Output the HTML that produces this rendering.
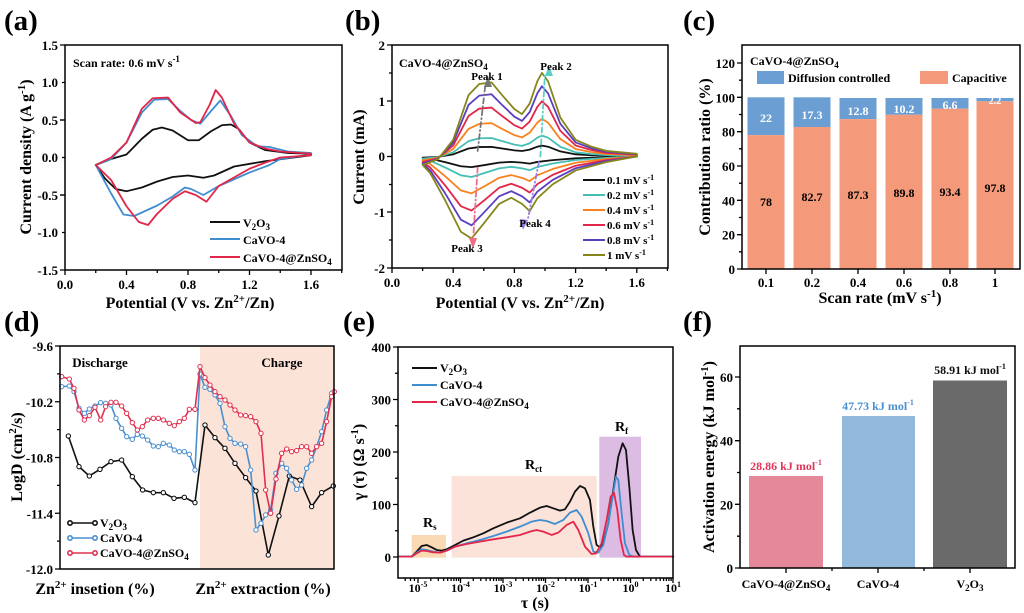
<!DOCTYPE html>
<html><head><meta charset="utf-8"><style>
html,body{margin:0;padding:0;background:#fff}
svg{display:block;font-family:"Liberation Serif",serif;font-weight:bold}
.ns{vector-effect:non-scaling-stroke;fill:none;stroke-linejoin:round;stroke-linecap:round}
.t{font-size:13px}
.ti{font-size:16px}
.pl{font-size:29px}
</style></head><body>
<svg width="1024" height="613" viewBox="0 0 1024 613" xmlns="http://www.w3.org/2000/svg">
<defs>
<marker id="mk" viewBox="-10 -10 20 20" markerWidth="20" markerHeight="20" markerUnits="userSpaceOnUse"><circle r="6.5" fill="#fff" stroke="#000" stroke-width="3"/></marker>
<marker id="mb" viewBox="-10 -10 20 20" markerWidth="20" markerHeight="20" markerUnits="userSpaceOnUse"><circle r="6.5" fill="#fff" stroke="#4A8FCF" stroke-width="3"/></marker>
<marker id="mr" viewBox="-10 -10 20 20" markerWidth="20" markerHeight="20" markerUnits="userSpaceOnUse"><circle r="6.5" fill="#fff" stroke="#E0304F" stroke-width="3"/></marker>
</defs>

<!-- ================= (a) ================= -->
<text x="4" y="30" class="pl">(a)</text>
<g transform="translate(65,157.5) scale(153.75,-75)">
<polyline class="ns" stroke="#111" stroke-width="1.8" points="0.2,-0.1 0.3,-0.02 0.4,0.04 0.5,0.25 0.57,0.37 0.63,0.4 0.7,0.36 0.8,0.23 0.87,0.23 0.95,0.35 1.02,0.43 1.08,0.44 1.13,0.38 1.2,0.2 1.3,0.1 1.45,0.06 1.6,0.05 1.6,0.03 1.3,-0.05 1.1,-0.12 0.97,-0.24 0.9,-0.27 0.8,-0.24 0.7,-0.26 0.6,-0.32 0.5,-0.4 0.4,-0.45 0.33,-0.42 0.26,-0.28 0.2,-0.1"/>
<polyline class="ns" stroke="#3F8ED0" stroke-width="1.8" points="0.2,-0.1 0.3,-0.02 0.4,0.2 0.5,0.6 0.58,0.77 0.67,0.78 0.75,0.62 0.82,0.5 0.88,0.45 0.95,0.62 1.01,0.76 1.08,0.55 1.15,0.3 1.25,0.15 1.33,0.14 1.45,0.08 1.6,0.06 1.6,0.04 1.4,-0.02 1.33,-0.1 1.2,-0.2 1.0,-0.38 0.9,-0.5 0.82,-0.42 0.78,-0.4 0.7,-0.52 0.6,-0.64 0.45,-0.78 0.38,-0.76 0.3,-0.48 0.2,-0.1"/>
<polyline class="ns" stroke="#E2264A" stroke-width="1.8" points="0.2,-0.1 0.3,0.0 0.4,0.2 0.5,0.65 0.57,0.79 0.67,0.8 0.75,0.6 0.85,0.46 0.88,0.47 0.94,0.7 0.98,0.9 1.02,0.8 1.1,0.45 1.2,0.2 1.3,0.12 1.4,0.08 1.6,0.05 1.6,0.03 1.4,0.0 1.3,-0.07 1.2,-0.15 1.0,-0.38 0.92,-0.59 0.85,-0.5 0.78,-0.45 0.7,-0.55 0.6,-0.75 0.54,-0.9 0.48,-0.86 0.4,-0.65 0.3,-0.3 0.2,-0.1"/>
</g>
<rect x="65" y="45" width="277" height="225" fill="none" stroke="#000" stroke-width="1.5"/>
<g stroke="#000" stroke-width="1.3">
<path d="M65,45h-5M65,82.5h-3M65,120h-5M65,157.5h-3M65,195h-5M65,232.5h-3M65,270h-5"/>
<path d="M65,270v5M95.75,270v3M126.5,270v5M157.25,270v3M188,270v5M218.75,270v3M249.5,270v5M280.25,270v3M311,270v5M341.75,270v3"/>
<path d="M65,120h-5M65,195h-5"/>
</g>
<g class="t" text-anchor="end">
<text x="58" y="50">1.5</text><text x="58" y="87">1.0</text><text x="58" y="125">0.5</text><text x="58" y="162">0.0</text><text x="58" y="200">-0.5</text><text x="58" y="237">-1.0</text><text x="58" y="275">-1.5</text>
</g>
<g class="t" text-anchor="middle">
<text x="65" y="289">0.0</text><text x="126.5" y="289">0.4</text><text x="188" y="289">0.8</text><text x="249.5" y="289">1.2</text><text x="311" y="289">1.6</text>
</g>
<text x="190" y="308" class="ti" text-anchor="middle">Potential (V vs. Zn<tspan dy="-6" font-size="11">2+</tspan><tspan dy="6">/Zn)</tspan></text>
<text transform="translate(31,157) rotate(-90)" class="ti" text-anchor="middle">Current density (A g<tspan dy="-6" font-size="11">-1</tspan><tspan dy="6">)</tspan></text>
<text x="73" y="67" font-size="12">Scan rate: 0.6 mV s<tspan dy="-5" font-size="9">-1</tspan></text>
<g stroke-width="2"><line x1="210" y1="222" x2="240" y2="222" stroke="#111"/><line x1="210" y1="239" x2="240" y2="239" stroke="#3F8ED0"/><line x1="210" y1="257" x2="240" y2="257" stroke="#E2264A"/></g>
<g font-size="12"><text x="243" y="227">V<tspan dy="3" font-size="9">2</tspan><tspan dy="-3">O</tspan><tspan dy="3" font-size="9">3</tspan></text><text x="243" y="244">CaVO-4</text><text x="243" y="262">CaVO-4@ZnSO<tspan dy="3" font-size="9">4</tspan></text></g>

<!-- ================= (b) ================= -->
<text x="345" y="30" class="pl">(b)</text>
<g transform="translate(392,156.5) scale(153,-55.75)">
<g transform="scale(1,0.13)"><polyline class="ns" stroke="#111" stroke-width="1.8" points="0.2,-0.15 0.3,-0.05 0.4,0.3 0.5,1.1 0.57,1.3 0.65,1.33 0.72,1.1 0.8,0.85 0.85,0.76 0.9,0.95 0.95,1.35 0.98,1.5 1.02,1.35 1.1,0.7 1.2,0.3 1.3,0.18 1.4,0.1 1.6,0.05 1.6,0.0 1.4,-0.1 1.2,-0.25 1.05,-0.5 0.95,-0.75 0.9,-0.98 0.85,-0.85 0.78,-0.74 0.7,-0.85 0.6,-1.2 0.52,-1.47 0.45,-1.35 0.35,-0.8 0.25,-0.3 0.2,-0.15"/></g>
<g transform="scale(1,0.25)"><polyline class="ns" stroke="#45BFB5" stroke-width="1.8" points="0.2,-0.15 0.3,-0.05 0.4,0.3 0.5,1.1 0.57,1.3 0.65,1.33 0.72,1.1 0.8,0.85 0.85,0.76 0.9,0.95 0.95,1.35 0.98,1.5 1.02,1.35 1.1,0.7 1.2,0.3 1.3,0.18 1.4,0.1 1.6,0.05 1.6,0.0 1.4,-0.1 1.2,-0.25 1.05,-0.5 0.95,-0.75 0.9,-0.98 0.85,-0.85 0.78,-0.74 0.7,-0.85 0.6,-1.2 0.52,-1.47 0.45,-1.35 0.35,-0.8 0.25,-0.3 0.2,-0.15"/></g>
<g transform="scale(1,0.45)"><polyline class="ns" stroke="#F7821E" stroke-width="1.8" points="0.2,-0.15 0.3,-0.05 0.4,0.3 0.5,1.1 0.57,1.3 0.65,1.33 0.72,1.1 0.8,0.85 0.85,0.76 0.9,0.95 0.95,1.35 0.98,1.5 1.02,1.35 1.1,0.7 1.2,0.3 1.3,0.18 1.4,0.1 1.6,0.05 1.6,0.0 1.4,-0.1 1.2,-0.25 1.05,-0.5 0.95,-0.75 0.9,-0.98 0.85,-0.85 0.78,-0.74 0.7,-0.85 0.6,-1.2 0.52,-1.47 0.45,-1.35 0.35,-0.8 0.25,-0.3 0.2,-0.15"/></g>
<g transform="scale(1,0.66)"><polyline class="ns" stroke="#E2264A" stroke-width="1.8" points="0.2,-0.15 0.3,-0.05 0.4,0.3 0.5,1.1 0.57,1.3 0.65,1.33 0.72,1.1 0.8,0.85 0.85,0.76 0.9,0.95 0.95,1.35 0.98,1.5 1.02,1.35 1.1,0.7 1.2,0.3 1.3,0.18 1.4,0.1 1.6,0.05 1.6,0.0 1.4,-0.1 1.2,-0.25 1.05,-0.5 0.95,-0.75 0.9,-0.98 0.85,-0.85 0.78,-0.74 0.7,-0.85 0.6,-1.2 0.52,-1.47 0.45,-1.35 0.35,-0.8 0.25,-0.3 0.2,-0.15"/></g>
<g transform="scale(1,0.84)"><polyline class="ns" stroke="#5B3EC0" stroke-width="1.8" points="0.2,-0.15 0.3,-0.05 0.4,0.3 0.5,1.1 0.57,1.3 0.65,1.33 0.72,1.1 0.8,0.85 0.85,0.76 0.9,0.95 0.95,1.35 0.98,1.5 1.02,1.35 1.1,0.7 1.2,0.3 1.3,0.18 1.4,0.1 1.6,0.05 1.6,0.0 1.4,-0.1 1.2,-0.25 1.05,-0.5 0.95,-0.75 0.9,-0.98 0.85,-0.85 0.78,-0.74 0.7,-0.85 0.6,-1.2 0.52,-1.47 0.45,-1.35 0.35,-0.8 0.25,-0.3 0.2,-0.15"/></g>
<polyline class="ns" stroke="#86861A" stroke-width="1.8" points="0.2,-0.15 0.3,-0.05 0.4,0.3 0.5,1.1 0.57,1.3 0.65,1.33 0.72,1.1 0.8,0.85 0.85,0.76 0.9,0.95 0.95,1.35 0.98,1.5 1.02,1.35 1.1,0.7 1.2,0.3 1.3,0.18 1.4,0.1 1.6,0.05 1.6,0.0 1.4,-0.1 1.2,-0.25 1.05,-0.5 0.95,-0.75 0.9,-0.98 0.85,-0.85 0.78,-0.74 0.7,-0.85 0.6,-1.2 0.52,-1.47 0.45,-1.35 0.35,-0.8 0.25,-0.3 0.2,-0.15"/>
<line x1="0.56" y1="0.1" x2="0.61" y2="1.28" class="ns" stroke="#777" stroke-width="1.8" stroke-dasharray="5 3 1 3"/>
<line x1="0.97" y1="0.0" x2="1.0" y2="1.5" class="ns" stroke="#5CCFC4" stroke-width="1.8" stroke-dasharray="5 3 1 3"/>
<line x1="0.56" y1="-0.2" x2="0.53" y2="-1.5" class="ns" stroke="#EE6C84" stroke-width="1.8" stroke-dasharray="5 3 1 3"/>
<line x1="0.96" y1="-0.1" x2="0.89" y2="-1.1" class="ns" stroke="#9A7FE0" stroke-width="1.8" stroke-dasharray="5 3 1 3"/>
</g>
<polygon points="484,87 492,87 488,76" fill="#777"/>
<polygon points="545,76 553,76 549,65" fill="#5CCFC4"/>
<polygon points="469,238 477,238 473,249" fill="#EE6C84"/>
<polygon points="520,219 528,220 523,230" fill="#9A7FE0"/>
<rect x="392" y="45" width="276" height="223" fill="none" stroke="#000" stroke-width="1.5"/>
<g stroke="#000" stroke-width="1.3">
<path d="M392,45h-5M392,73h-3M392,101h-5M392,129h-3M392,156.5h-5M392,184.5h-3M392,212h-5M392,240h-3M392,268h-5"/>
<path d="M392,268v5M422.6,268v3M453.2,268v5M483.8,268v3M514.4,268v5M545,268v3M575.6,268v5M606.2,268v3M636.8,268v5M667.4,268v3"/>
</g>
<g class="t" text-anchor="end"><text x="385" y="50">2</text><text x="385" y="106">1</text><text x="385" y="161">0</text><text x="385" y="217">-1</text><text x="385" y="273">-2</text></g>
<g class="t" text-anchor="middle"><text x="392" y="287">0.0</text><text x="453.2" y="287">0.4</text><text x="514.4" y="287">0.8</text><text x="575.6" y="287">1.2</text><text x="636.8" y="287">1.6</text></g>
<text x="520" y="308" class="ti" text-anchor="middle">Potential (V vs. Zn<tspan dy="-6" font-size="11">2+</tspan><tspan dy="6">/Zn)</tspan></text>
<text transform="translate(364,157) rotate(-90)" class="ti" text-anchor="middle">Current (mA)</text>
<text x="399" y="67" font-size="12">CaVO-4@ZnSO<tspan dy="3" font-size="9">4</tspan></text>
<g font-size="11" text-anchor="middle"><text x="487" y="80">Peak 1</text><text x="556" y="70">Peak 2</text><text x="467" y="252">Peak 3</text><text x="535" y="227">Peak 4</text></g>
<g stroke-width="2">
<line x1="583" y1="180" x2="605" y2="180" stroke="#111"/><line x1="583" y1="195" x2="605" y2="195" stroke="#45BFB5"/><line x1="583" y1="210" x2="605" y2="210" stroke="#F7821E"/><line x1="583" y1="225" x2="605" y2="225" stroke="#E2264A"/><line x1="583" y1="240" x2="605" y2="240" stroke="#5B3EC0"/><line x1="583" y1="255" x2="605" y2="255" stroke="#86861A"/>
</g>
<g font-size="11"><text x="607" y="184">0.1 mV s<tspan dy="-4" font-size="8">-1</tspan></text><text x="607" y="199">0.2 mV s<tspan dy="-4" font-size="8">-1</tspan></text><text x="607" y="214">0.4 mV s<tspan dy="-4" font-size="8">-1</tspan></text><text x="607" y="229">0.6 mV s<tspan dy="-4" font-size="8">-1</tspan></text><text x="607" y="244">0.8 mV s<tspan dy="-4" font-size="8">-1</tspan></text><text x="607" y="259">1 mV s<tspan dy="-4" font-size="8">-1</tspan></text></g>

<!-- ================= (c) ================= -->
<text x="683" y="30" class="pl">(c)</text>
<g>
<rect x="747.5" y="97.3" width="37" height="37.8" fill="#6B9FD3"/><rect x="747.5" y="135.1" width="37" height="133.9" fill="#F49A7A"/>
<rect x="793.5" y="97.3" width="37" height="29.7" fill="#6B9FD3"/><rect x="793.5" y="127" width="37" height="142" fill="#F49A7A"/>
<rect x="839.5" y="98" width="37" height="21.1" fill="#6B9FD3"/><rect x="839.5" y="119.1" width="37" height="149.9" fill="#F49A7A"/>
<rect x="885.5" y="98" width="37" height="16.8" fill="#6B9FD3"/><rect x="885.5" y="114.8" width="37" height="154.2" fill="#F49A7A"/>
<rect x="931.5" y="98" width="37" height="10.7" fill="#6B9FD3"/><rect x="931.5" y="108.7" width="37" height="160.3" fill="#F49A7A"/>
<rect x="976.5" y="98" width="37" height="3.3" fill="#6B9FD3"/><rect x="976.5" y="101.3" width="37" height="167.7" fill="#F49A7A"/>
</g>
<rect x="742" y="45" width="278" height="224" fill="none" stroke="#000" stroke-width="1.5"/>
<g stroke="#000" stroke-width="1.3">
<path d="M742,269h-5M742,251.8h-3M742,234.7h-5M742,217.5h-3M742,200.3h-5M742,183.2h-3M742,166h-5M742,148.8h-3M742,131.7h-5M742,114.5h-3M742,97.3h-5M742,80.2h-3M742,63h-5"/>
<path d="M766,269v5M812,269v5M858,269v5M904,269v5M950,269v5M995,269v5"/>
</g>
<g class="t" text-anchor="end"><text x="735" y="274">0</text><text x="735" y="239.7">20</text><text x="735" y="205.3">40</text><text x="735" y="171">60</text><text x="735" y="136.7">80</text><text x="735" y="102.3">100</text><text x="735" y="68">120</text></g>
<g class="t" text-anchor="middle"><text x="766" y="287">0.1</text><text x="812" y="287">0.2</text><text x="858" y="287">0.4</text><text x="904" y="287">0.6</text><text x="950" y="287">0.8</text><text x="995" y="287">1</text></g>
<g font-size="12" text-anchor="middle"><text x="766" y="206">78</text><text x="812" y="201">82.7</text><text x="858" y="199">87.3</text><text x="904" y="197">89.8</text><text x="950" y="196">93.4</text><text x="995" y="192">97.8</text></g>
<g font-size="12" text-anchor="middle" fill="#fff"><text x="766" y="122">22</text><text x="812" y="119">17.3</text><text x="858" y="115">12.8</text><text x="904" y="113">10.2</text><text x="950" y="109">6.6</text><text x="995" y="104" font-size="10">2.2</text></g>
<text x="880" y="303" class="ti" text-anchor="middle">Scan rate (mV s<tspan dy="-6" font-size="11">-1</tspan><tspan dy="6">)</tspan></text>
<text transform="translate(710,157) rotate(-90)" class="ti" text-anchor="middle">Contribution ratio (%)</text>
<text x="750" y="65" font-size="12">CaVO-4@ZnSO<tspan dy="3" font-size="9">4</tspan></text>
<rect x="757" y="71" width="27" height="13" fill="#6B9FD3"/><text x="788" y="82" font-size="12">Diffusion controlled</text>
<rect x="920" y="71" width="28" height="13" fill="#F49A7A"/><text x="952" y="82" font-size="12">Capacitive</text>

<!-- ================= (d) ================= -->
<text x="4" y="331" class="pl">(d)</text>
<rect x="200" y="346" width="134" height="223" fill="#FBE3D8"/>
<g transform="translate(0,300) scale(0.3333)">
<polyline class="ns" stroke="#111" stroke-width="1.6" marker-start="url(#mk)" marker-mid="url(#mk)" marker-end="url(#mk)" points="205,408 237,500 268,528 300,508 333,485 365,480 397,530 428,570 460,578 490,578 522,595 553,592 585,608 615,375 645,413 675,445 705,490 737,533 768,573 805,765 837,648 868,528 900,540 935,620 965,578 1000,558"/>
<polyline class="ns" stroke="#4A8FCF" stroke-width="1.6" marker-start="url(#mb)" marker-mid="url(#mb)" marker-end="url(#mb)" points="185,260 208,258 222,275 237,325 253,340 268,327 285,318 302,308 317,310 333,315 348,355 365,385 380,410 397,418 412,403 427,408 443,420 460,438 475,440 490,430 508,435 523,450 538,455 553,455 568,463 585,510 600,222 615,262 630,268 645,285 660,310 675,380 690,415 705,430 722,432 737,440 752,510 768,690 783,670 797,645 812,630 828,520 845,490 860,505 875,540 890,568 905,555 920,505 935,480 950,440 965,395 980,330 995,280"/>
<polyline class="ns" stroke="#E0304F" stroke-width="1.6" marker-start="url(#mr)" marker-mid="url(#mr)" marker-end="url(#mr)" points="185,230 208,237 222,265 237,330 253,360 268,347 285,322 302,360 317,320 333,307 348,307 365,318 380,340 397,368 412,390 427,380 443,360 460,355 475,355 490,360 508,370 523,377 538,365 553,355 568,328 585,328 600,200 615,233 630,255 645,275 660,290 675,300 690,315 705,330 722,345 737,347 752,350 768,365 783,400 797,570 812,640 828,537 845,460 860,447 875,455 890,452 905,440 920,440 935,460 950,440 965,430 980,365 995,290 1003,275"/>
</g>
<rect x="60" y="346" width="274" height="223" fill="none" stroke="#000" stroke-width="1.5"/>
<g stroke="#000" stroke-width="1.3">
<path d="M60,346h-5M60,373.9h-3M60,401.75h-5M60,429.6h-3M60,457.5h-5M60,485.4h-3M60,513.25h-5M60,541.1h-3M60,569h-5"/>
</g>
<g class="t" text-anchor="end"><text x="53" y="351">-9.6</text><text x="53" y="406.75">-10.2</text><text x="53" y="462.5">-10.8</text><text x="53" y="518.25">-11.4</text><text x="53" y="574">-12.0</text></g>
<text x="100" y="367" font-size="13" text-anchor="middle">Discharge</text>
<text x="282" y="367" font-size="13" text-anchor="middle">Charge</text>
<g stroke-width="1.6">
<line x1="68" y1="523" x2="97" y2="523" stroke="#111"/><circle cx="70" cy="523" r="2.2" fill="#fff" stroke="#111"/><circle cx="95" cy="523" r="2.2" fill="#fff" stroke="#111"/>
<line x1="68" y1="538" x2="97" y2="538" stroke="#4A8FCF"/><circle cx="70" cy="538" r="2.2" fill="#fff" stroke="#4A8FCF"/><circle cx="95" cy="538" r="2.2" fill="#fff" stroke="#4A8FCF"/>
<line x1="68" y1="553" x2="97" y2="553" stroke="#E0304F"/><circle cx="70" cy="553" r="2.2" fill="#fff" stroke="#E0304F"/><circle cx="95" cy="553" r="2.2" fill="#fff" stroke="#E0304F"/>
</g>
<g font-size="12"><text x="100" y="527">V<tspan dy="3" font-size="9">2</tspan><tspan dy="-3">O</tspan><tspan dy="3" font-size="9">3</tspan></text><text x="100" y="542">CaVO-4</text><text x="100" y="557">CaVO-4@ZnSO<tspan dy="3" font-size="9">4</tspan></text></g>
<text x="95" y="594" class="ti" text-anchor="middle">Zn<tspan dy="-6" font-size="11">2+</tspan><tspan dy="6"> insetion (%)</tspan></text>
<text x="263" y="594" class="ti" text-anchor="middle">Zn<tspan dy="-6" font-size="11">2+</tspan><tspan dy="6"> extraction (%)</tspan></text>
<text transform="translate(22,457) rotate(-90)" class="ti" text-anchor="middle">LogD (cm<tspan dy="-6" font-size="11">2</tspan><tspan dy="6">/s)</tspan></text>

<!-- ================= (e) ================= -->
<text x="343" y="331" class="pl">(e)</text>
<g transform="translate(340,300) scale(0.3333)">
<rect x="215" y="705" width="103" height="68" fill="#FAD9B5"/>
<rect x="335" y="528" width="435" height="245" fill="#FBE3DA"/>
<rect x="778" y="410" width="125" height="363" fill="#DDBCE3"/>
<polyline class="ns" stroke="#111" stroke-width="1.8" points="175,770 215,770 230,755 245,738 260,735 275,742 290,750 305,752 320,748 340,738 370,722 400,712 430,700 460,685 500,668 540,655 570,638 600,623 620,618 640,625 660,632 675,628 690,605 705,575 720,558 735,565 750,600 760,680 770,735 780,742 790,730 805,670 820,570 835,470 848,430 858,450 868,560 878,690 888,750 900,770 1000,770"/>
<polyline class="ns" stroke="#3F8ED0" stroke-width="1.8" points="175,770 215,770 230,758 245,748 260,750 280,755 300,758 320,752 345,740 380,730 420,720 460,708 500,695 540,680 575,665 600,660 620,663 645,672 670,660 690,638 710,630 725,650 745,700 760,755 775,758 790,735 805,670 818,590 828,530 835,540 845,640 855,730 868,765 880,770 1000,770"/>
<polyline class="ns" stroke="#E2264A" stroke-width="1.8" points="175,770 215,770 230,760 245,752 260,753 280,757 300,758 320,752 345,740 380,732 420,725 460,718 500,712 540,705 570,695 590,690 610,695 635,705 655,698 680,675 700,665 715,690 735,740 755,762 768,760 785,730 800,660 812,590 822,578 832,630 842,720 852,765 860,770 1000,770"/>
</g>
<rect x="398" y="347" width="275" height="231" fill="none" stroke="#000" stroke-width="1.5"/>
<g stroke="#000" stroke-width="1.3">
<path d="M398,557h-5M398,530.75h-3M398,504.5h-5M398,478.25h-3M398,452h-5M398,425.75h-3M398,399.5h-5M398,373.25h-3M398,347h-5"/>
<path d="M418,578v5M460.5,578v5M503,578v5M545.5,578v5M588,578v5M630.5,578v5M673,578v5"/>
<path d="M405.2,578v3M410.5,578v3M414.4,578v3M430.8,578v3M438.3,578v3M443.6,578v3M447.7,578v3M451.1,578v3M453.9,578v3M456.4,578v3M458.6,578v3M473.3,578v3M480.8,578v3M486.1,578v3M490.2,578v3M493.6,578v3M496.4,578v3M498.9,578v3M501.1,578v3M515.8,578v3M523.3,578v3M528.6,578v3M532.7,578v3M536.1,578v3M538.9,578v3M541.4,578v3M543.6,578v3M558.3,578v3M565.8,578v3M571.1,578v3M575.2,578v3M578.6,578v3M581.4,578v3M583.9,578v3M586.1,578v3M600.8,578v3M608.3,578v3M613.6,578v3M617.7,578v3M621.1,578v3M623.9,578v3M626.4,578v3M628.6,578v3M643.3,578v3M650.8,578v3M656.1,578v3M660.2,578v3M663.6,578v3M666.4,578v3M668.9,578v3M671.1,578v3"/>
</g>
<g class="t" text-anchor="end"><text x="391" y="562">0</text><text x="391" y="509.5">100</text><text x="391" y="457">200</text><text x="391" y="404.5">300</text><text x="391" y="352">400</text></g>
<g font-size="12" text-anchor="middle">
<text x="418" y="592">10<tspan dy="-5" font-size="8">-5</tspan></text><text x="460.5" y="592">10<tspan dy="-5" font-size="8">-4</tspan></text><text x="503" y="592">10<tspan dy="-5" font-size="8">-3</tspan></text><text x="545.5" y="592">10<tspan dy="-5" font-size="8">-2</tspan></text><text x="588" y="592">10<tspan dy="-5" font-size="8">-1</tspan></text><text x="630.5" y="592">10<tspan dy="-5" font-size="8">0</tspan></text><text x="673" y="592">10<tspan dy="-5" font-size="8">1</tspan></text>
</g>
<text x="535" y="608" class="ti" text-anchor="middle">τ (s)</text>
<text transform="translate(364,462) rotate(-90)" class="ti" text-anchor="middle">γ (τ) (Ω s<tspan dy="-6" font-size="11">-1</tspan><tspan dy="6">)</tspan></text>
<g stroke-width="2"><line x1="412" y1="368" x2="437" y2="368" stroke="#111"/><line x1="412" y1="385" x2="437" y2="385" stroke="#3F8ED0"/><line x1="412" y1="402" x2="437" y2="402" stroke="#E2264A"/></g>
<g font-size="12"><text x="440" y="372">V<tspan dy="3" font-size="9">2</tspan><tspan dy="-3">O</tspan><tspan dy="3" font-size="9">3</tspan></text><text x="440" y="389">CaVO-4</text><text x="440" y="406">CaVO-4@ZnSO<tspan dy="3" font-size="9">4</tspan></text></g>
<text x="423" y="527" font-size="14">R<tspan dy="3" font-size="9">s</tspan></text>
<text x="525" y="469" font-size="14">R<tspan dy="3" font-size="9">ct</tspan></text>
<text x="615" y="431" font-size="14">R<tspan dy="3" font-size="9">f</tspan></text>

<!-- ================= (f) ================= -->
<text x="683" y="331" class="pl">(f)</text>
<rect x="749" y="476" width="74" height="92" fill="#E58899"/>
<rect x="842" y="416" width="73" height="152" fill="#92B8DB"/>
<rect x="933" y="380.5" width="74" height="187.5" fill="#6A6A6A"/>
<rect x="740" y="346" width="275" height="222" fill="none" stroke="#000" stroke-width="1.5"/>
<g stroke="#000" stroke-width="1.3">
<path d="M740,568h-5M740,536.2h-3M740,504.3h-5M740,472.5h-3M740,440.7h-5M740,408.8h-3M740,377h-5"/>
<path d="M786,568v5M878,568v5M970,568v5M832,568v3M924,568v3"/>
</g>
<g class="t" text-anchor="end"><text x="733" y="573">0</text><text x="733" y="509.3">20</text><text x="733" y="445.7">40</text><text x="733" y="382">60</text></g>
<g font-size="12" text-anchor="middle"><text x="786" y="588">CaVO-4@ZnSO<tspan dy="3" font-size="9">4</tspan></text><text x="878" y="588">CaVO-4</text><text x="970" y="588">V<tspan dy="3" font-size="9">2</tspan><tspan dy="-3">O</tspan><tspan dy="3" font-size="9">3</tspan></text></g>
<g font-size="12" text-anchor="middle">
<text x="786" y="470" fill="#E0365A">28.86 kJ mol<tspan dy="-5" font-size="8">-1</tspan></text>
<text x="878" y="410" fill="#4A90D0">47.73 kJ mol<tspan dy="-5" font-size="8">-1</tspan></text>
<text x="970" y="374" fill="#111">58.91 kJ mol<tspan dy="-5" font-size="8">-1</tspan></text>
</g>
<text transform="translate(714,457) rotate(-90)" class="ti" text-anchor="middle">Activation energy (kJ mol<tspan dy="-6" font-size="11">-1</tspan><tspan dy="6">)</tspan></text>
</svg>
</body></html>
